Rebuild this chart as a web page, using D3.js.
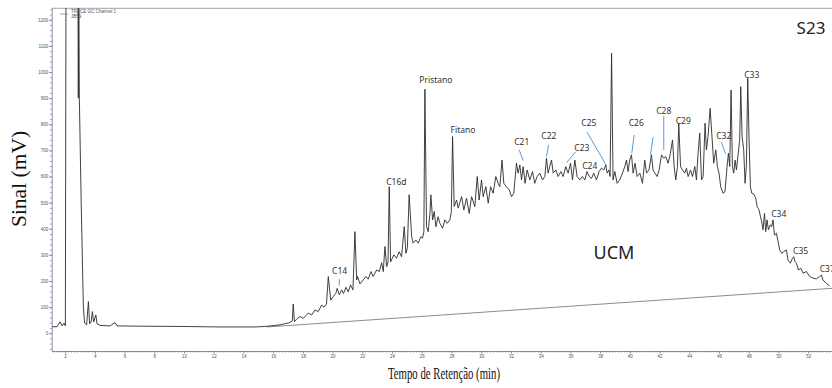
<!DOCTYPE html>
<html>
<head>
<meta charset="utf-8">
<script src="https://cdn.jsdelivr.net/npm/d3@7"></script>
<style>
  body { margin: 0; background: #fff; }
  svg { display: block; }
</style>
</head>
<body>
<svg id="chart" width="832" height="388"></svg>
<script>
// GC-FID trace, sample S23: [retention time (min), signal (mV)]
const trace = [
  [1.13,25],[1.46,25],[1.66,44],[1.80,28],[1.93,39],[2.02,28],[2.10,2600],[2.47,3000],
  [2.84,1800],[2.86,1500],[2.89,900],[2.92,1400],[2.96,900],[3.08,510],[3.23,101],[3.31,39],
  [3.45,32],[3.57,121],[3.65,36],[3.75,43],[3.84,83],[3.92,43],[4.07,70],[4.15,36],[4.35,30],
  [5.03,28],[5.36,41],[5.50,28],[7.04,27],[9.73,26],[12.42,24],[14.78,24],[15.45,26],
  [16.46,32],[17.13,41],[17.29,47],[17.35,112],[17.43,44],[17.58,54],[17.80,64],[18.03,57],
  [18.36,77],[18.59,70],[18.81,89],[19.03,83],[19.26,108],[19.42,100],[19.59,112],[19.71,217],
  [19.87,127],[20.04,140],[20.22,153],[20.31,172],[20.45,147],[20.61,166],[20.73,152],[20.90,176],
  [21.05,158],[21.21,185],[21.37,166],[21.50,389],[21.62,204],[21.68,217],[21.84,189],[22.06,204],
  [22.24,217],[22.40,207],[22.58,236],[22.73,217],[22.96,242],[23.14,236],[23.30,270],[23.41,236],
  [23.52,332],[23.64,255],[23.73,273],[23.81,561],[23.90,273],[24.12,300],[24.30,287],[24.48,312],
  [24.64,293],[24.82,408],[24.93,306],[25.03,327],[25.15,530],[25.32,370],[25.42,345],[25.60,357],
  [25.76,345],[25.94,370],[26.05,364],[26.14,388],[26.21,934],[26.32,408],[26.43,389],[26.55,459],
  [26.61,530],[26.73,434],[26.84,466],[26.95,408],[27.10,446],[27.22,421],[27.40,402],[27.55,434],
  [27.71,421],[27.89,434],[27.99,466],[28.07,753],[28.18,485],[28.34,510],[28.45,479],[28.68,523],
  [28.83,472],[29.01,517],[29.19,459],[29.35,523],[29.57,485],[29.73,600],[29.86,510],[30.02,587],
  [30.13,523],[30.31,561],[30.47,498],[30.63,561],[30.80,536],[30.98,600],[31.14,574],[31.25,561],
  [31.40,663],[31.52,574],[31.70,561],[31.88,549],[32.04,523],[32.19,536],[32.37,651],[32.48,613],
  [32.60,644],[32.71,587],[32.82,638],[32.95,574],[33.09,625],[33.27,587],[33.45,619],[33.60,574],
  [33.76,600],[33.94,613],[34.12,587],[34.28,600],[34.39,670],[34.50,613],[34.61,638],[34.73,663],
  [34.84,613],[35.02,625],[35.17,600],[35.36,619],[35.51,600],[35.69,638],[35.85,613],[36.01,651],
  [36.14,587],[36.30,663],[36.45,600],[36.63,587],[36.81,600],[36.97,587],[37.12,619],[37.26,600],
  [37.42,593],[37.57,613],[37.75,587],[37.93,619],[38.09,632],[38.25,625],[38.38,644],[38.47,613],
  [38.59,625],[38.67,600],[38.77,1072],[38.87,587],[38.99,619],[39.14,574],[39.32,587],[39.50,613],
  [39.66,638],[39.77,663],[39.88,619],[39.99,663],[40.11,683],[40.22,613],[40.35,651],[40.49,600],
  [40.67,613],[40.85,574],[41.00,663],[41.12,613],[41.29,625],[41.45,683],[41.56,625],[41.68,613],
  [41.83,600],[41.97,625],[42.13,683],[42.28,670],[42.42,676],[42.57,651],[42.73,689],[42.87,740],
  [42.98,638],[43.09,587],[43.20,638],[43.29,804],[43.41,638],[43.54,625],[43.70,613],[43.81,632],
  [43.92,600],[44.08,625],[44.21,600],[44.37,638],[44.48,587],[44.59,689],[44.70,766],[44.82,587],
  [44.93,600],[45.06,804],[45.15,702],[45.26,753],[45.40,861],[45.51,766],[45.64,651],[45.78,702],
  [45.89,638],[46.00,613],[46.11,561],[46.27,536],[46.40,542],[46.54,638],[46.63,689],[46.72,638],
  [46.81,931],[46.90,638],[46.99,613],[47.08,663],[47.17,625],[47.28,683],[47.39,740],[47.46,944],
  [47.55,753],[47.66,702],[47.75,574],[47.84,638],[47.93,976],[48.02,740],[48.11,561],[48.20,536],
  [48.33,533],[48.47,517],[48.56,485],[48.69,472],[48.79,446],[48.87,427],[48.96,396],[49.06,459],
  [49.14,389],[49.23,434],[49.32,396],[49.46,415],[49.54,408],[49.63,434],[49.73,376],[49.86,383],
  [49.95,357],[50.08,319],[50.22,306],[50.35,312],[50.53,319],[50.64,281],[50.80,268],[50.94,287],
  [51.03,293],[51.11,274],[51.21,268],[51.34,242],[51.50,249],[51.65,230],[51.88,236],[52.10,217],
  [52.32,211],[52.55,208],[52.77,217],[52.89,223],[52.99,204],[53.22,191],[53.44,181]
];

// Straight baseline drawn under the unresolved complex mixture
const ucmBaseline = [[15.6,24],[53.6,172]];

// Axis ticks
const yTicks = d3.range(0, 1201, 100);
const xTicks = d3.range(2, 53, 2);

// Peak names: [label, time, mV of text baseline, anchor]
const peakLabels = [
  ["C14", 20.47, 227, "middle"], ["C16d", 24.29, 568, "middle"], ["Pristano", 26.95, 958, "middle"],
  ["Fitano", 28.77, 767, "middle"], ["C21", 32.73, 721, "middle"], ["C22", 34.55, 744, "middle"],
  ["C23", 36.77, 698, "middle"], ["C24", 37.30, 629, "middle"], ["C25", 37.24, 792, "middle"],
  ["C26", 40.43, 792, "middle"], ["C28", 42.28, 840, "middle"], ["C29", 43.59, 801, "middle"],
  ["C32", 46.32, 744, "middle"], ["C33", 48.20, 979, "middle"], ["C34", 50.02, 445, "middle"],
  ["C35", 51.49, 304, "middle"], ["C37", 52.77, 233, "start"]
];

// Leader lines from names to peaks: [t1, mV1, t2, mV2]
const leaders = [
  [20.45, 207, 20.45, 183], [32.55, 702, 32.82, 661], [34.53, 721, 34.39, 676],
  [36.36, 695, 35.74, 653], [37.12, 770, 38.43, 641], [40.29, 759, 40.13, 689],
  [41.56, 750, 41.39, 683], [42.28, 832, 42.28, 702], [46.16, 731, 46.45, 686]
];

const svg = d3.select("#chart");
const plot = { left: 51.7, right: 832, top: 8.3, bottom: 351 };

const x = d3.scaleLinear().domain([1.1, 53.6]).range([plot.left, plot.right]);
const y = d3.scaleLinear().domain([-68, 1244]).range([plot.bottom, plot.top]);

svg.append("defs").append("clipPath").attr("id", "plotClip")
  .append("rect")
  .attr("x", plot.left).attr("y", plot.top)
  .attr("width", plot.right - plot.left).attr("height", plot.bottom - plot.top);

const axisColor = "#5d6385";

// Frame top line
svg.append("line")
  .attr("x1", plot.left).attr("x2", plot.right)
  .attr("y1", plot.top).attr("y2", plot.top)
  .attr("stroke", "#8a8a8a").attr("stroke-width", 0.8);

// Minor ticks
svg.append("g")
  .attr("transform", `translate(${plot.left},0)`)
  .call(d3.axisLeft(y).tickValues(d3.range(-60, 1244, 20)).tickSize(1.5).tickSizeOuter(0).tickFormat(""))
  .call(g => g.selectAll("line,path").attr("stroke", axisColor).attr("stroke-width", 0.7));
svg.append("g")
  .attr("transform", `translate(0,${plot.bottom})`)
  .call(d3.axisBottom(x).tickValues(d3.range(1.2, 53.6, 0.2)).tickSize(1.5).tickSizeOuter(0).tickFormat(""))
  .call(g => g.selectAll("line,path").attr("stroke", axisColor).attr("stroke-width", 0.7));

// Major ticks with labels
svg.append("g")
  .attr("transform", `translate(${plot.left},0)`)
  .call(d3.axisLeft(y).tickValues(yTicks).tickFormat(d3.format("d")).tickSize(2.5).tickPadding(1).tickSizeOuter(0))
  .call(g => g.select(".domain").remove())
  .call(g => g.selectAll("line").attr("stroke", axisColor).attr("stroke-width", 0.7))
  .call(g => g.selectAll("text").attr("font-size", 4.5).attr("fill", "#555")
    .attr("font-family", "Liberation Sans, Arial, sans-serif"));
svg.append("g")
  .attr("transform", `translate(0,${plot.bottom})`)
  .call(d3.axisBottom(x).tickValues(xTicks).tickFormat(d3.format("d")).tickSize(2.5).tickPadding(1.5).tickSizeOuter(0))
  .call(g => g.select(".domain").remove())
  .call(g => g.selectAll("line").attr("stroke", axisColor).attr("stroke-width", 0.7))
  .call(g => g.selectAll("text").attr("font-size", 4.5).attr("fill", "#555")
    .attr("font-family", "Liberation Sans, Arial, sans-serif"));

const body = svg.append("g").attr("clip-path", "url(#plotClip)");

// UCM baseline
body.append("path")
  .datum(ucmBaseline)
  .attr("d", d3.line().x(d => x(d[0])).y(d => y(d[1])))
  .attr("fill", "none").attr("stroke", "#8c8c8c").attr("stroke-width", 1);

// Chromatogram
body.append("path")
  .datum(trace)
  .attr("d", d3.line().x(d => x(d[0])).y(d => y(d[1])))
  .attr("fill", "none").attr("stroke", "#2b2b2b").attr("stroke-width", 0.9)
  .attr("stroke-linejoin", "round");

// Leader lines
svg.append("g").selectAll("line")
  .data(leaders).join("line")
  .attr("x1", d => x(d[0])).attr("y1", d => y(d[1]))
  .attr("x2", d => x(d[2])).attr("y2", d => y(d[3]))
  .attr("stroke", "#5b9bd5").attr("stroke-width", 1);

// Peak names
svg.append("g").selectAll("text")
  .data(peakLabels).join("text")
  .attr("x", d => x(d[1])).attr("y", d => y(d[2]))
  .attr("text-anchor", d => d[3])
  .attr("font-family", "Noto Sans, Open Sans, sans-serif")
  .attr("font-size", 8.5).attr("fill", "#333")
  .text(d => d[0]);

// Legend
const legend = svg.append("g");
legend.append("line").attr("x1", 60).attr("x2", 68).attr("y1", 14).attr("y2", 14)
  .attr("stroke", "#888").attr("stroke-width", 0.8);
legend.append("text").attr("x", 71).attr("y", 13).text("TRACE GC Channel 1")
  .attr("font-size", 4.5).attr("fill", "#555").attr("font-family", "Liberation Sans, Arial, sans-serif");
legend.append("text").attr("x", 71).attr("y", 17.5).text("JB59")
  .attr("font-size", 4.5).attr("fill", "#555").attr("font-family", "Liberation Sans, Arial, sans-serif");

// Sample id and UCM hump label
svg.append("text").attr("x", 811).attr("y", 34).attr("text-anchor", "middle")
  .attr("font-family", "Noto Sans, Open Sans, sans-serif").attr("font-size", 17).attr("fill", "#222")
  .text("S23");
svg.append("text").attr("x", 614).attr("y", 259).attr("text-anchor", "middle")
  .attr("font-family", "Noto Sans, Open Sans, sans-serif").attr("font-size", 18).attr("fill", "#222")
  .text("UCM");

// Axis titles
svg.append("text")
  .attr("transform", "translate(25.5,179) rotate(-90)")
  .attr("text-anchor", "middle")
  .attr("font-family", "Liberation Serif, Times New Roman, serif")
  .attr("font-size", 21.5).attr("fill", "#111")
  .text("Sinal (mV)");
svg.append("text")
  .attr("x", 388).attr("y", 379)
  .attr("textLength", 112).attr("lengthAdjust", "spacingAndGlyphs")
  .attr("font-family", "Liberation Serif, Times New Roman, serif")
  .attr("font-size", 17).attr("fill", "#111")
  .text("Tempo de Retenção (min)");
</script>
</body>
</html>
